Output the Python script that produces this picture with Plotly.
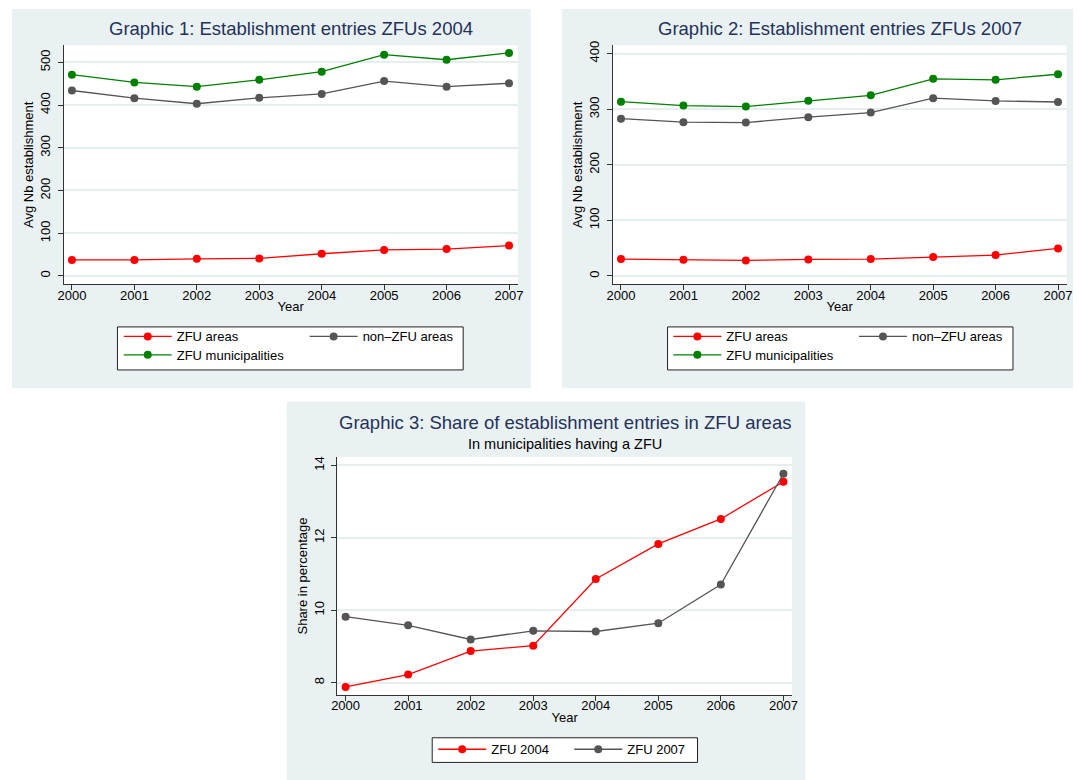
import plotly.graph_objects as go

W, H = 1079, 780

years = [2000, 2001, 2002, 2003, 2004, 2005, 2006, 2007]

# Graphic 1: ZFUs 2004
g1_zfu_areas = [37.5, 37.5, 40, 41, 52, 61, 63, 71]
g1_non_zfu = [434, 416, 403, 417, 426, 456, 443, 451]
g1_zfu_munic = [471, 453, 443, 459, 478, 518, 506, 522]

# Graphic 2: ZFUs 2007
g2_zfu_areas = [30.4, 29.2, 28.0, 29.8, 30.4, 34.0, 37.6, 49.5]
g2_non_zfu = [283, 276.7, 276, 285.7, 294, 320, 315, 313]
g2_zfu_munic = [313.7, 306.6, 304.8, 315.5, 325, 354.8, 353, 363]

# Graphic 3: share in percentage
g3_zfu2004 = [7.88, 8.22, 8.87, 9.02, 10.86, 11.83, 12.52, 13.55]
g3_zfu2007 = [9.82, 9.58, 9.19, 9.43, 9.41, 9.64, 10.71, 13.77]

titles = ["Graphic 1: Establishment entries ZFUs 2004",
          "Graphic 2: Establishment entries ZFUs 2007",
          "Graphic 3: Share of establishment entries in ZFU areas"]
subtitle3 = "In municipalities having a ZFU"
legend_names_12 = ["ZFU areas", "non\u2013ZFU areas", "ZFU municipalities"]
legend_names_3 = ["ZFU 2004", "ZFU 2007"]

RED, GRAY, GREEN = "#ff0000", "#555555", "#008000"
PANEL = "#eaf1f3"
GRID = "#e6eef0"
NAVY = "#23325a"
FONT = "Liberation Sans, Arial, sans-serif"

def px(x):
    return x / W

def py(y):
    return 1 - y / H

# pixel geometry
plot1 = (58.3, 517.5, 40.7, 281)
plot2 = (613.5, 1072.7, 40.7, 281)
plot3 = (335, 795, 455, 694.3)
panel1 = (6, 530.7, 4, 385.7)
panel2 = (562.3, 1079, 4, 385.7)
panel3 = (284, 808.3, 399, 780)

fig = go.Figure()

def add_series(x, y, color, name, xa, ya, leg):
    fig.add_trace(go.Scatter(
        x=x, y=y, mode="lines+markers", name=name,
        line=dict(color=color, width=1.3),
        marker=dict(color=color, size=8),
        xaxis=xa, yaxis=ya, legend=leg, showlegend=True))

add_series(years, g1_zfu_areas, RED, legend_names_12[0], "x", "y", "legend")
add_series(years, g1_non_zfu, GRAY, legend_names_12[1], "x", "y", "legend2")
add_series(years, g1_zfu_munic, GREEN, legend_names_12[2], "x", "y", "legend3")
add_series(years, g2_zfu_areas, RED, legend_names_12[0], "x2", "y2", "legend4")
add_series(years, g2_non_zfu, GRAY, legend_names_12[1], "x2", "y2", "legend5")
add_series(years, g2_zfu_munic, GREEN, legend_names_12[2], "x2", "y2", "legend6")
add_series(years, g3_zfu2004, RED, legend_names_3[0], "x3", "y3", "legend7")
add_series(years, g3_zfu2007, GRAY, legend_names_3[1], "x3", "y3", "legend8")

def xaxis_cfg(plot, anchor):
    return dict(domain=[px(plot[0]), px(plot[1])], anchor=anchor,
                range=[1999.867, 2007.14], tickmode="array", tickvals=years,
                showline=True, linecolor="#333333", linewidth=1,
                ticks="outside", ticklen=5, tickcolor="#333333",
                showgrid=False, zeroline=False, ticklabelstandoff=-6,
                tickfont=dict(family=FONT, size=13, color="black"),
                title=dict(text="Year", font=dict(family=FONT, size=13, color="black"), standoff=0))

def yaxis_cfg(plot, anchor, rng, dtick, title):
    return dict(domain=[py(plot[3]), py(plot[2])], anchor=anchor,
                range=rng, tickmode="linear", tick0=0, dtick=dtick,
                showline=True, linecolor="#333333", linewidth=1,
                ticks="outside", ticklen=5, tickcolor="#333333",
                showgrid=True, gridcolor=GRID, gridwidth=1.5, zeroline=False,
                tickangle=-90, ticklabelstandoff=2,
                tickfont=dict(family=FONT, size=13, color="black"),
                title=dict(text=title, font=dict(family=FONT, size=13, color="black"), standoff=1))

shapes = []
for pan, plt in [(panel1, plot1), (panel2, plot2), (panel3, plot3)]:
    shapes.append(dict(type="rect", xref="paper", yref="paper", layer="below",
                       x0=px(pan[0]), x1=px(pan[1]), y0=py(pan[3]), y1=py(pan[2]),
                       fillcolor=PANEL, line=dict(width=0)))
    shapes.append(dict(type="rect", xref="paper", yref="paper", layer="below",
                       x0=px(plt[0]), x1=px(plt[1]), y0=py(plt[3]), y1=py(plt[2]),
                       fillcolor="white", line=dict(width=0)))
# legend boxes
for (x0, x1, y0, y1) in [(112.7, 462.3, 324, 367.3), (669, 1018.3, 324, 367.3), (431, 699.3, 737.5, 762.3)]:
    shapes.append(dict(type="rect", xref="paper", yref="paper", layer="below",
                       x0=px(x0), x1=px(x1), y0=py(y1), y1=py(y0),
                       fillcolor="white", line=dict(color="#222222", width=1)))

annotations = []
for t, plt, yc in [(titles[0], plot1, 23.5), (titles[1], plot2, 23.5), (titles[2], plot3, 420)]:
    annotations.append(dict(text=t, xref="paper", yref="paper", x=px((plt[0] + plt[1]) / 2),
                            y=py(yc), xanchor="center", yanchor="middle", showarrow=False,
                            font=dict(family=FONT, size=18.5, color=NAVY)))
annotations.append(dict(text=subtitle3, xref="paper", yref="paper", x=px((plot3[0] + plot3[1]) / 2),
                        y=py(441.5), xanchor="center", yanchor="middle", showarrow=False,
                        font=dict(family=FONT, size=14.5, color="black")))

def legend_cfg(line_start_x, row_y):
    return dict(x=px(line_start_x - 5), y=py(row_y - 15), xanchor="left", yanchor="top",
                bgcolor="rgba(0,0,0,0)", borderwidth=0, itemwidth=48,
                font=dict(family=FONT, size=13, color="black"))

layout = dict(
    width=W, height=H, margin=dict(l=0, r=0, t=0, b=0),
    paper_bgcolor="white", plot_bgcolor="rgba(0,0,0,0)",
    font=dict(family=FONT, color="black"),
    xaxis=xaxis_cfg(plot1, "y"),
    yaxis=yaxis_cfg(plot1, "x", [-19.3, 539.5], 100, "Avg Nb establishment"),
    xaxis2=xaxis_cfg(plot2, "y2"),
    yaxis2=yaxis_cfg(plot2, "x2", [-14.8, 414.8], 100, "Avg Nb establishment"),
    xaxis3=xaxis_cfg(plot3, "y3"),
    yaxis3=yaxis_cfg(plot3, "x3", [7.66, 14.23], 2, "Share in percentage"),
    shapes=shapes, annotations=annotations,
    legend=legend_cfg(119, 333.5),
    legend2=legend_cfg(307, 333.5),
    legend3=legend_cfg(119, 352),
    legend4=legend_cfg(674.8, 333.5),
    legend5=legend_cfg(862.5, 333.5),
    legend6=legend_cfg(674.8, 352),
    legend7=legend_cfg(437, 749),
    legend8=legend_cfg(574.6, 749),
    showlegend=True,
)
fig.update_layout(**layout)
fig.write_html("out.html", config={"displayModeBar": False},
               post_script="document.body.style.margin='0';document.body.style.overflow='hidden';")
